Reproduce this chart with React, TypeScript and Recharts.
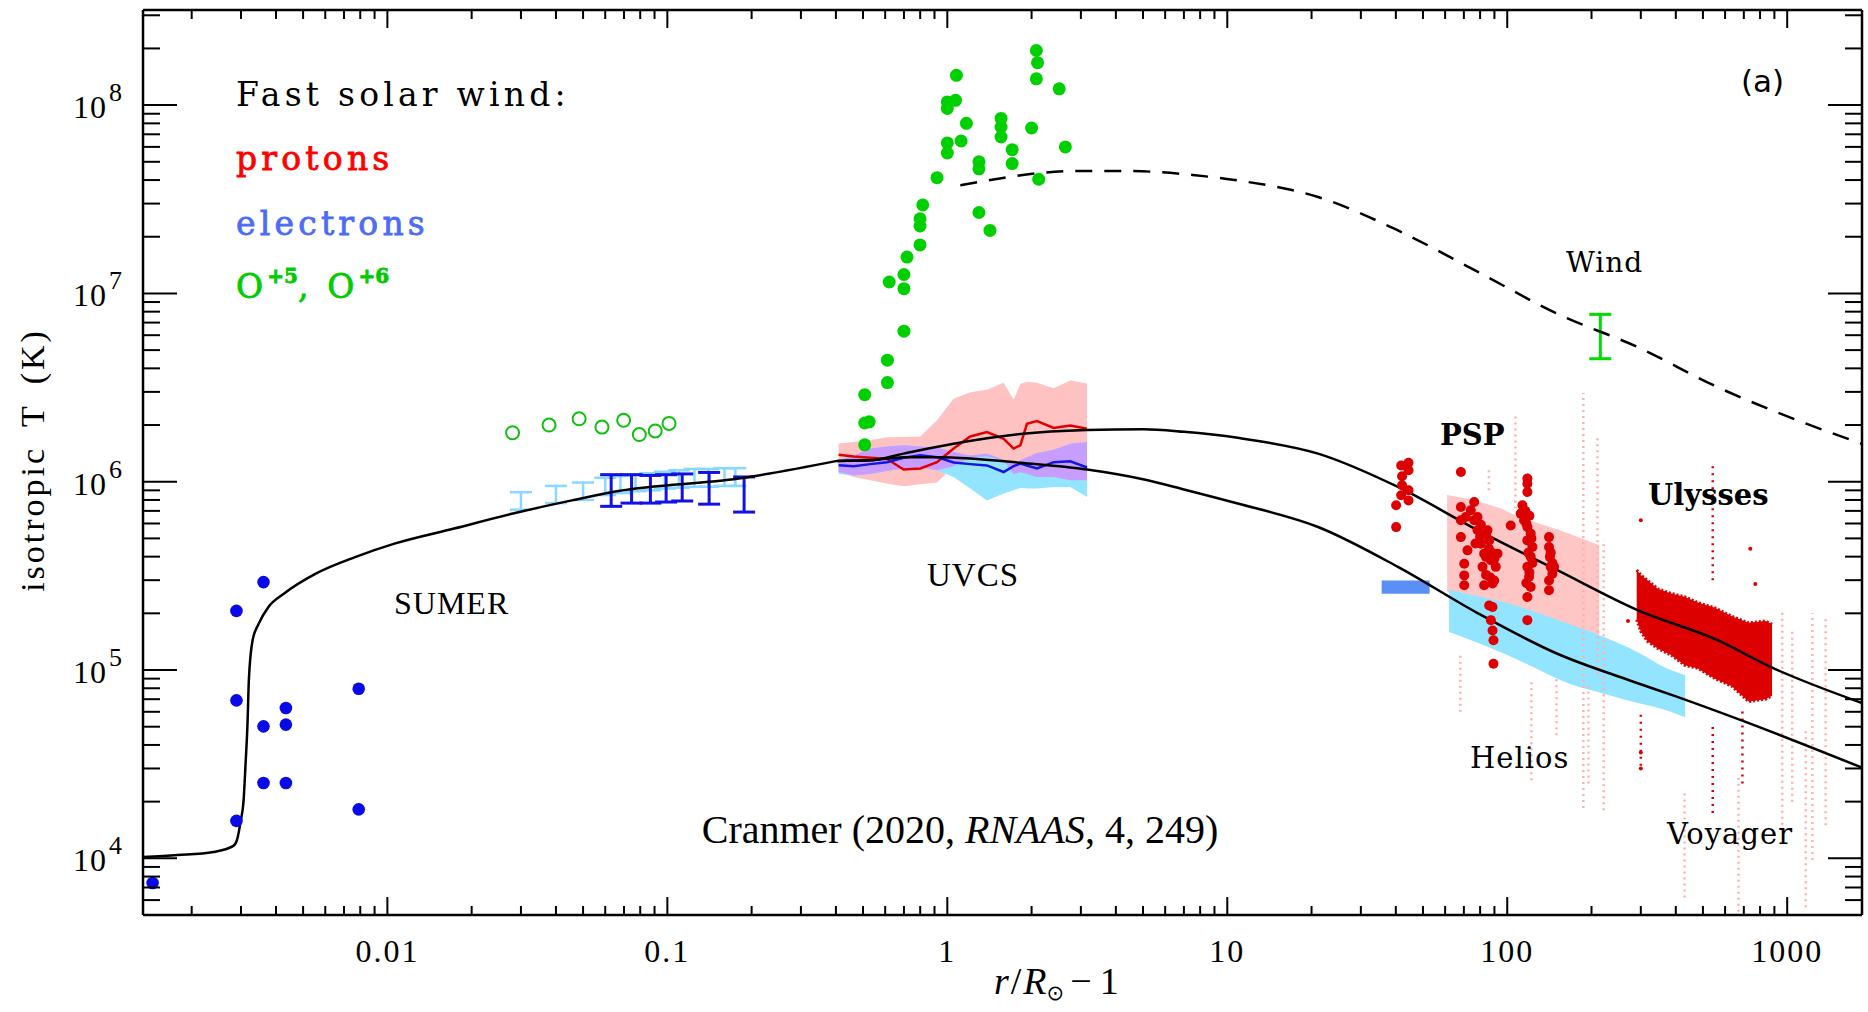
import React from "react";
import { Area, ComposedChart, ErrorBar, Line, Scatter, XAxis, YAxis } from "recharts";

const X_MIN = 0.00134;
const X_MAX = 1850;
const Y_MIN = 5000;
const Y_MAX = 3.2e8;

// axis ticks
const xDecades = [0.001, 0.01, 0.1, 1, 10, 100, 1000];
const yDecades = [1e3, 1e4, 1e5, 1e6, 1e7, 1e8];
const tickSteps = [1, 2, 3, 4, 5, 6, 7, 8, 9];

// model curves (common part, proton branch, electron branch, O+5 model)
const coreX = [0.00134, 0.00178, 0.00239, 0.00281, 0.0029, 0.002995, 0.003065, 0.003115, 0.003165, 0.0032, 0.0033, 0.00347, 0.00376, 0.00428, 0.00555, 0.00767, 0.0106, 0.0173, 0.0281, 0.0456, 0.0668, 0.18, 0.404];
const coreT = [1.016e4, 1.04e4, 1.08e4, 1.16e4, 1.245e4, 1.59e4, 2.03e4, 3.18e4, 5.19e4, 8.8e4, 1.44e5, 1.76e5, 2.16e5, 2.55e5, 3.25e5, 3.98e5, 4.69e5, 5.64e5, 6.78e5, 7.96e5, 8.93e5, 1.04e6, 1.29e6];
const protonX = [0.404, 0.531, 0.698, 1.053, 1.823, 3.155, 5.0, 7.0, 10.9, 21.1, 40.7, 78.6, 151, 292, 564, 871, 1850];
const protonT = [1.29e6, 1.3e6, 1.41e6, 1.59e6, 1.79e6, 1.88e6, 1.9e6, 1.84e6, 1.71e6, 1.41e6, 9.38e5, 5.52e5, 3.39e5, 2.08e5, 1.44e5, 1.04e5, 6.68e4];
const electronX = [0.404, 0.531, 0.698, 0.919, 1.208, 1.823, 3.155, 5.0, 7.0, 10.9, 21.1, 40.7, 78.6, 151, 274, 405, 687, 1850];
const electronT = [1.29e6, 1.3e6, 1.35e6, 1.35e6, 1.33e6, 1.26e6, 1.16e6, 1.03e6, 9.1e5, 7.66e5, 5.75e5, 3.53e5, 2.0e5, 1.22e5, 8.8e4, 7.2e4, 5.4e4, 3.03e4];
const oxygenX = [1.113, 1.54, 2.13, 3.0, 4.08, 5.57, 7.7, 10.9, 21.1, 40.7, 78.6, 151, 292, 564, 1087, 1850];
const oxygenT = [3.75e7, 4.08e7, 4.36e7, 4.47e7, 4.47e7, 4.42e7, 4.24e7, 3.98e7, 3.25e7, 2.16e7, 1.3e7, 7.8e6, 5.19e6, 3.18e6, 2.12e6, 1.59e6];

// SUMER
const sumerDotX = [0.00145, 0.00289, 0.00289, 0.00289, 0.00361, 0.00361, 0.00361, 0.00434, 0.00434, 0.00434, 0.0079, 0.0079];
const sumerDotT = [7.4e3, 2.06e5, 6.9e4, 1.58e4, 2.93e5, 5.02e4, 2.51e4, 6.28e4, 5.13e4, 2.51e4, 7.96e4, 1.82e4];
const sumerOxX = [0.028, 0.0378, 0.0484, 0.0584, 0.0698, 0.0794, 0.0905, 0.1014];
const sumerOxT = [1.82e6, 2.0e6, 2.16e6, 1.95e6, 2.12e6, 1.78e6, 1.86e6, 2.04e6];
const lightBarX = [0.03, 0.04, 0.05, 0.06, 0.068, 0.077, 0.087, 0.098, 0.11, 0.125, 0.14, 0.16, 0.175];
const lightBarLo = [7.1e5, 7.7e5, 8.0e5, 8.5e5, 8.7e5, 8.9e5, 9.0e5, 9.2e5, 9.3e5, 9.4e5, 9.4e5, 9.5e5, 9.5e5];
const lightBarHi = [8.8e5, 9.5e5, 9.9e5, 1.05e6, 1.07e6, 1.09e6, 1.11e6, 1.13e6, 1.15e6, 1.17e6, 1.17e6, 1.18e6, 1.18e6];
const darkBarX = [0.063, 0.0745, 0.087, 0.099, 0.113, 0.141, 0.188];
const darkBarLo = [7.4e5, 7.7e5, 7.7e5, 7.8e5, 7.9e5, 7.6e5, 6.9e5];
const darkBarHi = [1.09e6, 1.09e6, 1.08e6, 1.09e6, 1.1e6, 1.12e6, 1.06e6];

// UVCS
const uvcsOxX = [2.08, 2.1, 2.08, 2.51, 1.078, 1.0, 1.07, 1.0, 1.17, 1.556, 1.556, 1.556, 2.0, 1.0, 1.12, 1.0, 1.705, 2.64, 1.297, 1.297, 1.705, 0.919, 2.12, 0.817, 0.799, 0.799, 1.297, 1.42, 0.799, 0.718, 0.7, 0.62, 0.7, 0.7, 0.611, 0.611, 0.507, 0.526, 0.507, 0.507];
const uvcsOxT = [1.95e8, 1.68e8, 1.38e8, 1.22e8, 1.44e8, 1.04e8, 1.06e8, 9.6e7, 8.0e7, 8.5e7, 7.65e7, 6.77e7, 7.56e7, 6.3e7, 6.45e7, 5.57e7, 5.8e7, 6.0e7, 5.0e7, 4.59e7, 4.89e7, 4.12e7, 4.04e7, 2.95e7, 2.49e7, 2.28e7, 2.69e7, 2.16e7, 1.81e7, 1.56e7, 1.26e7, 1.15e7, 1.06e7, 6.3e6, 4.42e6, 3.36e6, 2.9e6, 2.08e6, 2.05e6, 1.57e6];
const uvcsX = [0.409, 0.463, 0.531, 0.609, 0.698, 0.801, 0.919, 1.053, 1.208, 1.386, 1.589, 1.725, 1.823, 1.925, 2.091, 2.398, 2.75, 3.155];
const uvcsPHi = [1.594e6, 1.625e6, 1.66e6, 1.72e6, 1.73e6, 1.74e6, 2.12e6, 2.76e6, 2.99e6, 3.08e6, 3.35e6, 2.73e6, 3.3e6, 3.4e6, 3.35e6, 3.14e6, 3.45e6, 3.32e6];
const uvcsPLo = [1.126e6, 1.06e6, 1.017e6, 9.77e5, 9.45e5, 9.7e5, 9.9e5, 1.21e6, 1.35e6, 1.36e6, 1.3e6, 1.1e6, 1.126e6, 1.1e6, 1.06e6, 1.06e6, 1.017e6, 1.017e6];
const uvcsEHi = [1.3e6, 1.38e6, 1.5e6, 1.54e6, 1.56e6, 1.54e6, 1.52e6, 1.44e6, 1.38e6, 1.41e6, 1.31e6, 1.25e6, 1.3e6, 1.35e6, 1.42e6, 1.48e6, 1.59e6, 1.625e6];
const uvcsELo = [1.104e6, 1.08e6, 1.1e6, 1.14e6, 1.175e6, 1.19e6, 1.15e6, 1.06e6, 9.2e5, 7.95e5, 8.65e5, 9.0e5, 9.3e5, 9.2e5, 9.2e5, 9.37e5, 9.37e5, 8.3e5];
const uvcsPMid = [1.39e6, 1.36e6, 1.34e6, 1.32e6, 1.16e6, 1.175e6, 1.27e6, 1.5e6, 1.74e6, 1.835e6, 1.69e6, 1.5e6, 1.56e6, 2.03e6, 2.1e6, 1.93e6, 1.99e6, 1.91e6];
const uvcsEMid = [1.222e6, 1.21e6, 1.24e6, 1.27e6, 1.34e6, 1.38e6, 1.35e6, 1.265e6, 1.24e6, 1.22e6, 1.126e6, 1.21e6, 1.247e6, 1.22e6, 1.175e6, 1.27e6, 1.285e6, 1.19e6];

// Wind
const windX = [215];
const windLo = [4.5e6];
const windHi = [7.74e6];

// Helios
const heliosCloudX = [61, 70, 80, 95, 110, 130, 155, 185, 213];
const heliosCloudHi = [8.5e5, 8.2e5, 7.8e5, 7.2e5, 6.5e5, 6.0e5, 5.5e5, 5.0e5, 4.6e5];
const heliosCloudLo = [2.6e5, 2.4e5, 2.2e5, 2.0e5, 1.8e5, 1.6e5, 1.4e5, 1.2e5, 1.05e5];
const heliosElX = [62, 80, 100, 130, 165, 220, 290, 372, 432];
const heliosElHi = [2.67e5, 2.45e5, 2.27e5, 2.0e5, 1.76e5, 1.5e5, 1.25e5, 1.02e5, 9.4e4];
const heliosElLo = [1.59e5, 1.38e5, 1.2e5, 1.0e5, 8.5e4, 7.5e4, 6.7e4, 6.1e4, 5.6e4];
const helios1auX = [35.6, 52.8];
const helios1auLo = [2.54e5, 2.54e5];
const helios1auHi = [2.99e5, 2.99e5];
const pinkStreakX = [68, 86, 107, 122, 150, 187, 195, 210, 221, 430, 670, 960, 1042, 1165, 1230, 1372];
const pinkStreakLo = [6.0e4, 9.0e5, 7.2e5, 2.6e4, 4.5e4, 1.85e4, 2.5e4, 9.5e4, 1.8e4, 6.2e3, 5.2e3, 1.4e4, 2.0e4, 5.5e3, 9.8e3, 1.5e4];
const pinkStreakHi = [1.2e5, 1.2e6, 2.3e6, 9.0e4, 9.0e4, 2.96e6, 8.7e4, 1.7e6, 4.9e5, 2.3e4, 2.7e4, 2.1e5, 1.6e5, 4.8e4, 2.0e5, 1.9e5];

// PSP
const pspX = [41.8, 44.4, 42.1, 44.4, 42.1, 44.4, 41.8, 44.4, 40.1, 40.1,
  68.3, 68.3, 68.3, 68.3, 71.1, 72.1, 70.2, 70.2, 70.2, 76.2, 74.1, 76.2, 78.3, 80.5, 82.7, 81.6, 83.9, 85, 86.2, 87.4, 88.6, 89.8, 91, 92.3, 82.7, 86.2, 88.6, 87.4, 88.6, 89.3, 89.3,
  78.3, 80.5, 84, 86, 88, 90, 84, 87, 80, 77,
  118, 118, 118, 113.3, 111.7, 102.9, 114.8, 118, 121.3, 118, 123, 121.3, 118, 119.6, 121.3, 118, 118,
  116, 120, 117, 122, 119, 123, 120, 117,
  141, 141, 142, 143, 145, 141, 141, 147, 143, 145];
const pspT = [1.22e6, 1.26e6, 1.07e6, 1.15e6, 9.58e5, 9.0e5, 8.47e5, 7.96e5, 7.5e5, 5.74e5,
  1.126e6, 7.34e5, 6.24e5, 5.08e5, 6.5e5, 4.32e5, 3.67e5, 3.18e5, 2.82e5, 7.8e5, 7.05e5, 6.24e5, 5.52e5, 4.69e5, 4.15e5, 3.53e5, 3.99e5, 5.52e5, 4.88e5, 3.83e5, 2.88e5, 2.99e5, 3.53e5, 4.15e5, 2.82e5, 2.2e5, 2.16e5, 1.84e5, 1.62e5, 1.44e5, 1.08e5,
  6.5e5, 5.9e5, 5.3e5, 4.4e5, 4.2e5, 3.9e5, 3.2e5, 3.1e5, 5.1e5, 4.7e5,
  1.04e6, 9.76e5, 8.82e5, 7.5e5, 6.77e5, 5.86e5, 6.24e5, 5.75e5, 5.3e5, 4.88e5, 4.5e5, 3.99e5, 3.53e5, 3.12e5, 2.76e5, 2.44e5, 1.84e5,
  7.0e5, 6.6e5, 6.0e5, 5.0e5, 4.2e5, 3.7e5, 3.3e5, 2.9e5,
  5.08e5, 4.5e5, 3.99e5, 3.53e5, 3.25e5, 2.99e5, 2.65e5, 3.53e5, 4.2e5, 3.7e5];

// Ulysses
const ulyssesX = [290, 300, 317, 345, 385, 430, 480, 552, 634, 728, 836, 883];
const ulyssesHi = [3.4e5, 3.2e5, 3.0e5, 2.7e5, 2.55e5, 2.45e5, 2.28e5, 2.14e5, 1.93e5, 1.78e5, 1.82e5, 1.75e5];
const ulyssesLo = [1.85e5, 1.6e5, 1.42e5, 1.3e5, 1.2e5, 1.06e5, 1.02e5, 9.0e4, 8.2e4, 6.8e4, 7.0e4, 7.3e4];
const ulyssesDotX = [300, 738, 769, 270, 300, 300];
const ulyssesDotT = [6.25e5, 4.4e5, 2.86e5, 1.82e5, 3.65e4, 3.0e4];
const redStreakX = [300, 542, 542, 692];
const redStreakLo = [3.1e4, 1.74e4, 3.0e5, 2.5e4];
const redStreakHi = [5.8e4, 5.0e4, 1.27e6, 6.3e4];

const pts = (xs: number[], ys: number[]) => xs.map((x, i) => ({ x, y: ys[i] }));
const band = (xs: number[], lo: number[], hi: number[]) => xs.map((x, i) => ({ x, range: [lo[i], hi[i]] }));
const bars = (xs: number[], lo: number[], hi: number[]) => xs.map((x, i) => ({ x, y: lo[i], err: [0, hi[i] - lo[i]] }));

const uvcsOverlap = uvcsX.map((x, i) => {
  const lo = Math.max(uvcsPLo[i], uvcsELo[i]);
  const hi = Math.min(uvcsPHi[i], uvcsEHi[i]);
  return { x, range: hi > lo ? [lo, hi] : null };
});

const xTicks = xDecades
  .flatMap((d) => tickSteps.map((m) => +(m * d).toPrecision(6)))
  .filter((v) => v >= X_MIN && v <= X_MAX);
const yTicks = yDecades
  .flatMap((d) => tickSteps.map((m) => +(m * d).toPrecision(6)))
  .filter((v) => v >= Y_MIN && v <= Y_MAX);

const TICK_FONT = "'Liberation Serif', 'Times New Roman', serif";
const SLAB_FONT = "'DejaVu Serif', serif";

function isMajor(v: number) {
  const l = Math.log10(v);
  return Math.abs(l - Math.round(l)) < 1e-6;
}

function BottomTick({ x, y, payload }: any) {
  const major = isMajor(payload.value);
  return (
    <g>
      <line x1={x} x2={x} y1={y} y2={y - (major ? 18 : 9)} stroke="#000" strokeWidth={2} />
      {major && (
        <text x={x} y={y + 47} textAnchor="middle" fontFamily={TICK_FONT} fontSize={32} letterSpacing={2} fill="#000">
          {String(payload.value)}
        </text>
      )}
    </g>
  );
}

function TopTick({ x, y, payload }: any) {
  const major = isMajor(payload.value);
  return <line x1={x} x2={x} y1={y} y2={y + (major ? 18 : 9)} stroke="#000" strokeWidth={2} />;
}

function LeftTick({ x, y, payload }: any) {
  const major = isMajor(payload.value);
  const exp = Math.round(Math.log10(payload.value));
  return (
    <g>
      <line x1={x} x2={x + (major ? 34 : 17)} y1={y} y2={y} stroke="#000" strokeWidth={2} />
      {major && (
        <g fontFamily={TICK_FONT} fill="#000">
          <text x={x - 36} y={y + 13} textAnchor="end" fontSize={32} letterSpacing={1}>10</text>
          <text x={x - 34} y={y - 4} fontSize={26}>{exp}</text>
        </g>
      )}
    </g>
  );
}

function RightTick({ x, y, payload }: any) {
  const major = isMajor(payload.value);
  return <line x1={x} x2={x - (major ? 34 : 17)} y1={y} y2={y} stroke="#000" strokeWidth={2} />;
}

const noShape = () => <g />;

export default function App() {
  const axisLine = { stroke: "#000", strokeWidth: 2.5 };
  return (
    <div style={{ position: "absolute", left: 0, top: 0, width: 1868, height: 1012, background: "#fff" }}>
      <ComposedChart width={1868} height={1012} margin={{ top: 0, right: 0, bottom: 0, left: 0 }}>
        <XAxis dataKey="x" type="number" scale="log" domain={[X_MIN, X_MAX]} allowDataOverflow ticks={xTicks} interval={0}
          height={97} tickSize={0} tickMargin={0} tickLine={false} axisLine={axisLine} tick={BottomTick} />
        <XAxis xAxisId="top" orientation="top" dataKey="x" type="number" scale="log" domain={[X_MIN, X_MAX]} allowDataOverflow
          ticks={xTicks} interval={0} height={10} tickSize={0} tickMargin={0} tickLine={false} axisLine={axisLine} tick={TopTick} />
        <YAxis dataKey="y" type="number" scale="log" domain={[Y_MIN, Y_MAX]} allowDataOverflow ticks={yTicks} interval={0}
          width={143} tickSize={0} tickMargin={0} tickLine={false} axisLine={axisLine} tick={LeftTick} />
        <YAxis yAxisId="right" orientation="right" type="number" scale="log" domain={[Y_MIN, Y_MAX]} allowDataOverflow
          ticks={yTicks} interval={0} width={6} tickSize={0} tickMargin={0} tickLine={false} axisLine={axisLine} tick={RightTick} />

        {/* UVCS bands */}
        <Area data={band(uvcsX, uvcsPLo, uvcsPHi)} dataKey="range" type="linear" stroke="none" fill="#ffc2c2" fillOpacity={1} isAnimationActive={false} dot={false} activeDot={false} />
        <Area data={band(uvcsX, uvcsELo, uvcsEHi)} dataKey="range" type="linear" stroke="none" fill="#92e4ff" fillOpacity={1} isAnimationActive={false} dot={false} activeDot={false} />
        <Area data={uvcsOverlap} dataKey="range" type="linear" stroke="none" fill="#c79eff" fillOpacity={1} isAnimationActive={false} dot={false} activeDot={false} />

        {/* Helios / Voyager */}
        <Area data={band(heliosCloudX, heliosCloudLo, heliosCloudHi)} dataKey="range" type="linear" stroke="none" fill="#ffc6c6" fillOpacity={1} isAnimationActive={false} dot={false} activeDot={false} />
        <Area data={band(heliosElX, heliosElLo, heliosElHi)} dataKey="range" type="monotone" stroke="none" fill="#92e4ff" fillOpacity={1} isAnimationActive={false} dot={false} activeDot={false} />
        <Area data={band(helios1auX, helios1auLo, helios1auHi)} dataKey="range" type="linear" stroke="none" fill="#5b8ff5" fillOpacity={1} isAnimationActive={false} dot={false} activeDot={false} />
        {pinkStreakX.map((x, i) => (
          <Line key={`ps${i}`} data={[{ x, y: pinkStreakLo[i] }, { x, y: pinkStreakHi[i] }]} dataKey="y" type="linear"
            stroke="#ffb0b0" strokeWidth={2.5} strokeDasharray="2 4" dot={false} activeDot={false} isAnimationActive={false} />
        ))}

        {/* Ulysses */}
        <Area data={band(ulyssesX, ulyssesLo, ulyssesHi)} dataKey="range" type="linear" stroke="#dd0000" strokeWidth={3} strokeDasharray="2 2" fill="#dd0000" fillOpacity={1} isAnimationActive={false} dot={false} activeDot={false} />
        {redStreakX.map((x, i) => (
          <Line key={`rs${i}`} data={[{ x, y: redStreakLo[i] }, { x, y: redStreakHi[i] }]} dataKey="y" type="linear"
            stroke="#dd0000" strokeWidth={2.5} strokeDasharray="2 5" dot={false} activeDot={false} isAnimationActive={false} />
        ))}
        <Scatter data={pts(ulyssesDotX, ulyssesDotT)} isAnimationActive={false}
          shape={(p: any) => <circle cx={p.cx} cy={p.cy} r={2} fill="#dd0000" />} />

        {/* PSP */}
        <Scatter data={pts(pspX, pspT)} isAnimationActive={false}
          shape={(p: any) => <circle cx={p.cx} cy={p.cy} r={5} fill="#dd0000" />} />

        {/* SUMER error bars */}
        <Scatter data={bars(lightBarX, lightBarLo, lightBarHi)} isAnimationActive={false} shape={noShape}>
          <ErrorBar dataKey="err" direction="y" width={11} stroke="#8ad8ff" strokeWidth={2.5} isAnimationActive={false} />
        </Scatter>
        <Scatter data={bars(darkBarX, darkBarLo, darkBarHi)} isAnimationActive={false} shape={noShape}>
          <ErrorBar dataKey="err" direction="y" width={11} stroke="#1212e6" strokeWidth={3} isAnimationActive={false} />
        </Scatter>
        <Scatter data={bars(windX, windLo, windHi)} isAnimationActive={false} shape={noShape}>
          <ErrorBar dataKey="err" direction="y" width={11} stroke="#00dd00" strokeWidth={3} isAnimationActive={false} />
        </Scatter>

        {/* UVCS lines */}
        <Line data={pts(uvcsX, uvcsPMid)} dataKey="y" type="linear" stroke="#e00000" strokeWidth={2.5} dot={false} activeDot={false} isAnimationActive={false} />
        <Line data={pts(uvcsX, uvcsEMid)} dataKey="y" type="linear" stroke="#1515e0" strokeWidth={2.5} dot={false} activeDot={false} isAnimationActive={false} />

        {/* dots */}
        <Scatter data={pts(sumerDotX, sumerDotT)} isAnimationActive={false}
          shape={(p: any) => <circle cx={p.cx} cy={p.cy} r={6.3} fill="#0a0ae8" />} />
        <Scatter data={pts(sumerOxX, sumerOxT)} isAnimationActive={false}
          shape={(p: any) => <circle cx={p.cx} cy={p.cy} r={6.5} fill="none" stroke="#10c010" strokeWidth={2} />} />
        <Scatter data={pts(uvcsOxX, uvcsOxT)} isAnimationActive={false}
          shape={(p: any) => <circle cx={p.cx} cy={p.cy} r={6.5} fill="#00d000" />} />

        {/* models */}
        <Line data={pts(oxygenX, oxygenT)} dataKey="y" type="monotone" stroke="#000" strokeWidth={2.5} strokeDasharray="17 12" dot={false} activeDot={false} isAnimationActive={false} />
        <Line data={pts(coreX, coreT)} dataKey="y" type="monotone" stroke="#000" strokeWidth={2.5} dot={false} activeDot={false} isAnimationActive={false} />
        <Line data={pts(protonX, protonT)} dataKey="y" type="monotone" stroke="#000" strokeWidth={2.5} dot={false} activeDot={false} isAnimationActive={false} />
        <Line data={pts(electronX, electronT)} dataKey="y" type="monotone" stroke="#000" strokeWidth={2.5} dot={false} activeDot={false} isAnimationActive={false} />
      </ComposedChart>

      <svg width={1868} height={1012} style={{ position: "absolute", left: 0, top: 0, pointerEvents: "none" }}>
        <g fontFamily={SLAB_FONT} fontSize={33} letterSpacing={4.2}>
          <text x={236} y={106} fill="#000">Fast solar wind:</text>
          <text x={236} y={170} fill="#ff0000" stroke="#ff0000" strokeWidth={0.8}>protons</text>
          <text x={236} y={235} fill="#4d6cf5" stroke="#4d6cf5" strokeWidth={0.8}>electrons</text>
          <text x={236} y={298} fill="#00cc00" stroke="#00cc00" strokeWidth={0.8}>
            O<tspan dy={-15} fontSize={20} fontWeight="bold" letterSpacing={0}>+5</tspan>
            <tspan dy={15}>, O</tspan>
            <tspan dy={-15} fontSize={20} fontWeight="bold" letterSpacing={0}>+6</tspan>
          </text>
        </g>
        <text x={1741} y={92} fontFamily="'DejaVu Sans', sans-serif" fontSize={31}>(a)</text>
        <text x={1566} y={272} fontFamily={SLAB_FONT} fontSize={28} letterSpacing={1}>Wind</text>
        <text x={1440} y={445} fontFamily={SLAB_FONT} fontSize={29} fontWeight="bold">PSP</text>
        <text x={1648} y={505} fontFamily={SLAB_FONT} fontSize={29} fontWeight="bold">Ulysses</text>
        <text x={394} y={614} fontFamily={TICK_FONT} fontSize={32} letterSpacing={1}>SUMER</text>
        <text x={927} y={586} fontFamily={TICK_FONT} fontSize={33} letterSpacing={1}>UVCS</text>
        <text x={1470} y={768} fontFamily={SLAB_FONT} fontSize={29} letterSpacing={1}>Helios</text>
        <text x={1667} y={844} fontFamily={SLAB_FONT} fontSize={29} letterSpacing={1}>Voyager</text>
        <text x={960} y={843} textAnchor="middle" fontFamily={TICK_FONT} fontSize={40}>
          Cranmer (2020, <tspan fontStyle="italic">RNAAS</tspan>, 4, 249)
        </text>
        <text transform="translate(44,460) rotate(-90)" textAnchor="middle" fontFamily={TICK_FONT} fontSize={34} letterSpacing={3} wordSpacing={8}>
          isotropic T (K)
        </text>
        <text x={994} y={994} fontFamily={TICK_FONT} fontSize={38}>
          <tspan fontStyle="italic">r</tspan>
          <tspan dx={2}>/</tspan>
          <tspan fontStyle="italic" dx={2}>R</tspan>
          <tspan fontFamily="'DejaVu Sans', sans-serif" fontSize={21} dy={6}>⊙</tspan>
          <tspan dy={-6} dx={6}>−</tspan>
          <tspan dx={8}>1</tspan>
        </text>
      </svg>
    </div>
  );
}
